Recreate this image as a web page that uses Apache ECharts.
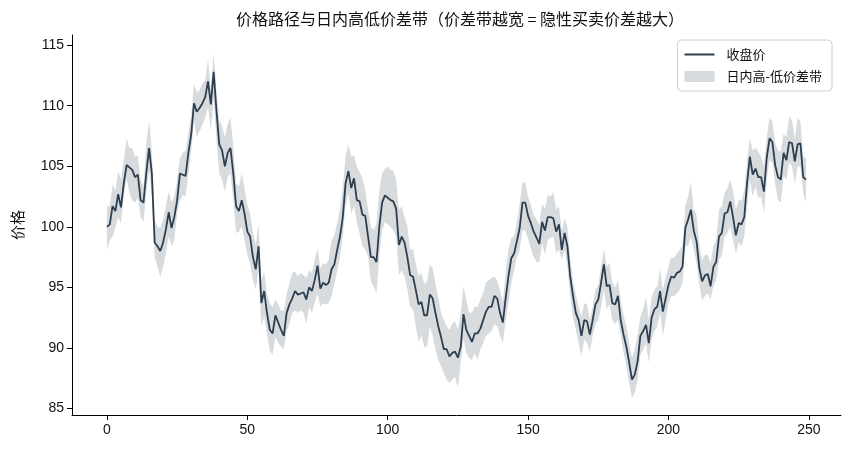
<!DOCTYPE html>
<html>
<head>
<meta charset="utf-8">
<script src="https://cdn.jsdelivr.net/npm/echarts@6/dist/echarts.min.js"></script>
<style>
html,body{margin:0;padding:0;background:#fff;}
#main{width:850px;height:453px;}
</style>
</head>
<body>
<div id="main"></div>
<script>
// 收盘价
var closePrice = [
100.0,100.2,101.7,101.3,102.7,101.6,103.6,105.1,104.9,104.7,
104.1,104.3,102.2,102.0,104.4,106.5,104.4,98.7,98.4,98.0,
98.7,99.8,101.2,99.9,100.8,102.2,104.4,104.3,104.2,106.1,
107.6,110.2,109.5,109.8,110.2,110.7,112.0,110.1,112.8,109.6,
106.8,106.3,105.0,106.1,106.5,104.4,101.7,101.3,102.2,101.1,
99.6,99.2,97.5,96.5,98.4,93.7,94.7,92.9,91.5,91.2,
92.7,92.1,91.5,91.0,92.9,93.6,94.1,94.7,94.4,94.5,
94.6,94.0,95.0,94.7,95.6,96.8,94.9,95.4,95.2,95.4,
96.5,96.9,98.1,99.2,100.8,103.6,104.6,103.2,104.0,102.2,
102.1,101.0,100.9,99.2,97.5,97.5,97.1,100.0,102.0,102.6,
102.4,102.2,102.1,101.5,98.5,99.2,98.7,97.5,96.0,95.9,
94.8,93.6,93.8,92.7,92.7,94.4,94.1,92.9,91.8,90.9,
89.9,89.9,89.3,89.6,89.7,89.2,90.1,92.8,91.5,91.0,
90.5,91.2,91.2,91.6,92.3,93.0,93.4,93.4,94.3,94.1,
92.9,92.1,94.1,95.9,97.4,97.8,98.8,99.9,102.0,102.0,
100.9,100.3,99.6,99.1,98.6,100.4,99.7,100.8,100.8,100.7,
99.6,100.2,98.1,99.5,98.4,95.9,94.3,92.9,92.3,91.0,
92.3,92.2,91.1,92.3,93.6,94.0,95.4,96.9,95.1,95.2,
93.7,93.6,94.3,92.3,91.1,90.1,88.8,87.4,87.8,88.9,
91.0,91.4,91.9,90.4,92.5,93.2,93.4,94.7,93.0,94.1,
95.2,95.9,95.8,96.2,96.3,96.7,99.9,100.6,101.4,99.7,
98.8,96.6,95.5,96.0,96.1,95.1,96.7,97.1,99.2,99.5,
101.1,101.2,102.1,100.8,99.3,100.3,100.2,100.8,103.6,105.8,
104.3,104.8,104.1,104.1,102.9,105.7,107.3,107.0,105.1,104.1,
103.9,106.1,105.5,107.0,106.9,105.4,106.8,106.9,104.1,103.9
];
// 日内最高价
var highPrice = [
101.7,101.7,103.5,103.0,104.6,103.9,105.5,107.3,106.5,106.5,
105.8,105.9,103.9,103.3,106.9,108.8,106.3,100.6,100.0,99.9,
100.6,101.7,102.9,102.0,102.5,103.9,105.7,106.1,106.3,107.7,
109.2,111.8,111.1,111.3,111.8,112.1,113.8,111.3,114.4,111.3,
108.8,108.3,107.4,108.5,109.0,106.6,103.6,103.3,104.4,103.2,
101.8,101.1,99.5,98.6,100.2,95.6,96.3,94.5,93.7,93.4,
94.0,93.6,93.1,93.1,94.5,95.3,96.2,96.3,95.9,96.2,
96.0,95.8,96.4,96.2,97.3,98.2,96.6,97.0,96.9,97.3,
98.9,99.3,100.3,101.5,103.3,105.8,106.8,105.8,105.9,105.0,
104.5,104.0,103.0,101.4,100.0,99.7,100.3,103.0,104.4,104.8,
105.0,104.7,104.6,103.9,101.4,101.7,100.8,100.0,98.1,98.2,
97.0,95.9,96.2,95.3,95.5,96.9,96.6,95.3,94.2,92.9,
92.3,91.8,91.5,92.0,92.2,91.5,92.9,95.1,94.0,92.9,
92.9,93.4,93.4,94.0,94.5,95.4,95.6,95.8,95.9,95.6,
94.8,93.8,96.2,98.1,99.1,99.2,100.4,101.9,103.7,103.6,
102.5,101.8,101.0,100.6,100.2,101.9,101.5,102.6,102.5,102.9,
101.4,101.7,99.7,100.7,100.0,97.3,95.6,94.4,93.4,92.6,
93.7,93.6,92.3,93.4,94.8,95.2,96.7,98.2,96.7,97.0,
95.4,95.0,95.6,94.0,92.7,91.8,90.4,89.2,89.9,91.0,
92.6,93.2,94.2,92.3,94.2,94.8,95.1,96.5,94.8,95.8,
96.7,97.5,97.4,97.8,98.1,98.5,101.7,102.5,103.7,101.4,
101.0,98.5,97.2,97.7,97.7,97.0,98.4,98.9,101.4,101.7,
102.8,103.2,103.9,103.0,101.4,102.2,102.2,103.0,105.5,107.3,
106.3,106.5,106.2,105.8,105.0,107.4,109.0,108.7,106.9,106.3,
106.2,107.7,107.4,109.1,108.8,107.2,109.0,108.7,105.8,105.7
];
// 日内最低价
var lowPrice = [
98.1,98.9,99.2,99.9,100.8,100.3,102.6,103.9,102.8,102.2,
102.0,102.4,100.8,100.4,102.8,104.7,102.5,97.5,96.7,95.9,
96.7,97.8,99.2,98.4,98.9,101.1,102.2,102.6,102.5,104.3,
106.3,108.8,107.4,107.9,108.4,109.0,109.9,108.0,110.5,107.2,
104.4,103.9,102.9,104.1,104.4,102.2,99.5,99.6,100.0,98.9,
97.7,97.0,95.6,94.8,96.5,91.8,92.6,91.2,89.8,89.4,
90.9,90.4,90.1,89.9,91.4,92.0,92.9,93.1,92.9,93.1,
92.9,92.0,93.4,92.9,93.7,94.5,93.4,93.7,93.6,93.7,
94.3,95.3,96.4,97.5,99.2,101.7,102.8,101.1,101.7,100.4,
99.4,98.4,98.1,97.5,95.5,95.1,94.5,97.5,99.7,100.4,
100.2,100.0,99.7,99.2,96.0,96.4,95.9,94.8,93.4,93.2,
91.8,90.5,91.0,90.1,90.1,91.8,91.0,89.9,89.0,88.5,
87.9,87.4,87.1,87.4,87.6,86.7,88.8,90.7,89.6,89.2,
89.0,89.6,89.0,89.9,90.4,91.0,91.2,91.4,92.0,91.8,
91.0,90.4,92.3,93.7,95.3,96.4,97.5,98.1,99.7,99.7,
99.0,98.2,97.5,97.1,97.1,98.6,97.7,98.9,99.1,99.2,
97.8,98.1,97.3,98.1,96.7,94.3,92.5,91.5,90.4,89.3,
90.7,90.4,89.7,91.0,92.0,92.3,93.4,94.8,93.2,93.6,
92.3,92.0,92.3,91.0,89.6,88.5,87.1,85.9,86.3,87.4,
89.4,89.9,90.4,88.8,90.7,91.4,91.8,92.9,91.0,92.3,
93.7,94.3,94.3,94.5,94.8,95.4,98.4,98.4,99.2,98.1,
97.0,95.2,93.9,94.3,94.5,94.0,95.1,95.6,97.3,97.6,
99.2,99.5,100.0,98.9,97.8,98.7,98.4,99.2,101.7,103.9,
102.5,103.3,102.4,102.5,101.1,103.9,105.5,105.3,103.5,102.2,
102.0,104.2,103.9,105.3,105.0,103.6,105.0,105.0,102.8,102.0
];
var xTicks = [0, 50, 100, 150, 200, 250];
var yTicks = [85, 90, 95, 100, 105, 110, 115];

var days = [];
for (var i = 0; i < closePrice.length; i++) days.push(i);

var closeData = [];
for (var i = 0; i < days.length; i++) closeData.push([days[i], closePrice[i]]);

var lineColor = '#2c3e50';
var bandColor = 'rgba(44,62,80,0.19)';
var fontNum = '"Liberation Sans", "Noto Sans CJK SC", sans-serif';
var fontCn = '"Noto Sans CJK SC", "Liberation Sans", sans-serif';

var chart = echarts.init(document.getElementById('main'));
var option = {
  animation: false,
  backgroundColor: '#fff',
  title: {
    text: '价格路径与日内高低价差带（价差带越宽 = 隐性买卖价差越大）',
    left: 455, top: 6, textAlign: 'center',
    textStyle: { fontFamily: fontCn, fontSize: 16, fontWeight: 'normal', color: '#111' }
  },
  legend: {
    orient: 'vertical', right: 18, top: 40,
    padding: [8, 10, 8, 7], itemGap: 9, itemWidth: 30, itemHeight: 11,
    borderColor: '#d0d0d0', borderWidth: 1, borderRadius: 4, backgroundColor: 'rgba(255,255,255,0.8)',
    textStyle: { fontFamily: fontCn, fontSize: 13, color: '#111', padding: [0, 0, 0, 7] },
    data: [
      { name: '收盘价', icon: 'path://M0,0H30V2H0Z', itemStyle: { color: lineColor } },
      { name: '日内高-低价差带', icon: 'rect', itemStyle: { color: bandColor } }
    ]
  },
  grid: { left: 72, right: 9, top: 35, bottom: 38 },
  xAxis: {
    type: 'value', min: -12.45, max: 261.45,
    axisLine: { onZero: false, lineStyle: { color: '#000', width: 1 } },
    axisTick: { show: true, length: 5, customValues: xTicks, lineStyle: { color: '#000' } },
    axisLabel: { customValues: xTicks, margin: 8, fontFamily: fontNum, fontSize: 14, color: '#111' },
    splitLine: { show: false }
  },
  yAxis: {
    type: 'value', min: 84.47, max: 115.83,
    name: '价格', nameLocation: 'middle', nameGap: 47, nameRotate: 90,
    nameTextStyle: { fontFamily: fontCn, fontSize: 15, color: '#111' },
    axisLine: { show: true, onZero: false, lineStyle: { color: '#000', width: 1 } },
    axisTick: { show: true, length: 5, customValues: yTicks, lineStyle: { color: '#000' } },
    axisLabel: { customValues: yTicks, margin: 8, fontFamily: fontNum, fontSize: 14, color: '#111' },
    splitLine: { show: false }
  },
  series: [
    {
      name: '日内高-低价差带',
      type: 'custom',
      itemStyle: { color: bandColor },
      data: [[0, 100]],
      z: 1,
      renderItem: function (params, api) {
        var pts = [];
        for (var k = 0; k < days.length; k++) pts.push(api.coord([days[k], highPrice[k]]));
        for (var k = days.length - 1; k >= 0; k--) pts.push(api.coord([days[k], lowPrice[k]]));
        return { type: 'polygon', shape: { points: pts }, style: { fill: bandColor, stroke: null } };
      }
    },
    {
      name: '收盘价',
      type: 'line',
      data: closeData,
      showSymbol: false,
      symbol: 'none',
      z: 3,
      lineStyle: { color: lineColor, width: 1.8 },
      itemStyle: { color: lineColor }
    }
  ]
};
chart.setOption(option);
</script>
</body>
</html>
